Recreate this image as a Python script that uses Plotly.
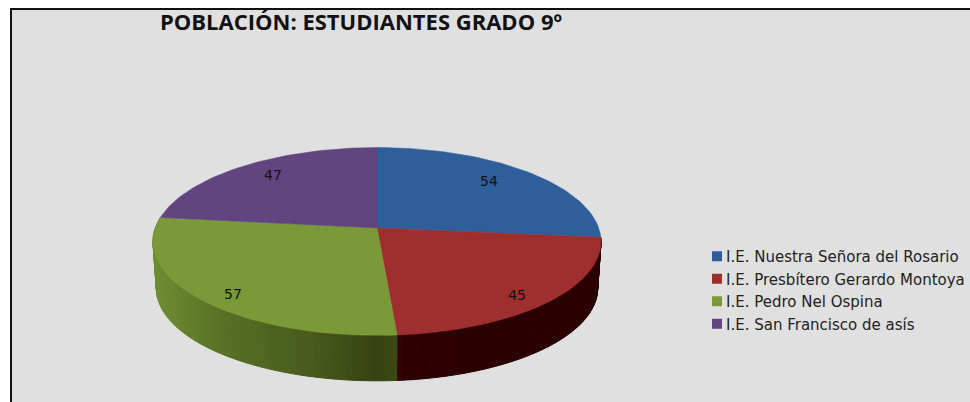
import math
import plotly.graph_objects as go

CATEGORIES = ["I.E. Nuestra Señora del Rosario", "I.E. Presbítero Gerardo Montoya",
              "I.E. Pedro Nel Ospina", "I.E. San Francisco de asís"]
VALUES = [54, 45, 57, 47]
COLORS = ["#2E5F9A", "#9E2F2E", "#7A9A3A", "#624480"]
TITLE = "POBLACIÓN: ESTUDIANTES GRADO 9º"

W, H = 970, 402
CX, CY, A, B, P = 377, 228, 221.7, 92, 0.1436
DEPTH, SHRINK = 47, 0.985
LABEL_FX = [0.735, 0.819, 0.818, 0.77]
LABEL_FY = [0.823, 0.92, 0.935, 0.845]
LABEL_DY = 2
TOTAL = sum(VALUES)


def top(deg, r=1.0):
    X, Y = r * math.sin(math.radians(deg)), r * math.cos(math.radians(deg))
    w = 1 + P * Y
    return CX + A * X / w, CY - B * Y / w


def low(deg):
    X, Y = math.sin(math.radians(deg)), math.cos(math.radians(deg))
    w = 1 + P * Y
    return CX + SHRINK * A * X / w, CY + DEPTH - SHRINK * B * Y / w


def lerp(stops, t):
    for (t0, c0), (t1, c1) in zip(stops, stops[1:]):
        if t <= t1:
            u = (t - t0) / (t1 - t0)
            return "rgb(%d,%d,%d)" % tuple(round(a + (b - a) * u) for a, b in zip(c0, c1))
    return "rgb(%d,%d,%d)" % stops[-1][1]


angles = [0]
for v in VALUES:
    angles.append(angles[-1] + v / TOTAL * 360)

fig = go.Figure()

# side wall strips, shaded by screen x
RED_SIDE = [(0, (58, 8, 6)), (0.15, (44, 0, 0)), (1, (42, 0, 0))]
GREEN_SIDE = [(0, (54, 66, 16)), (0.3, (72, 90, 28)), (0.7, (88, 112, 38)), (1, (110, 140, 50))]
for i, stops in ((1, RED_SIDE), (2, GREEN_SIDE)):
    a0, a1 = angles[i], angles[i + 1]
    n = 70
    for k in range(n):
        s0 = a0 + (a1 - a0) * k / n
        s1 = a0 + (a1 - a0) * (k + 1) / n
        pts = [top(s0), top(s1), low(s1), low(s0), top(s0)]
        tx = abs(top((s0 + s1) / 2)[0] - top(180)[0]) / A
        col = lerp(stops, min(tx, 1))
        fig.add_trace(go.Scatter(x=[p[0] for p in pts], y=[p[1] for p in pts], mode="lines",
                                 fill="toself", fillcolor=col, line=dict(color=col, width=1),
                                 hoverinfo="skip", showlegend=False))

# top faces
for i, (name, val, col) in enumerate(zip(CATEGORIES, VALUES, COLORS)):
    a0, a1 = angles[i], angles[i + 1]
    n = 60
    arc = [top(a0 + (a1 - a0) * k / n) for k in range(n + 1)]
    xs = [CX] + [p[0] for p in arc] + [CX]
    ys = [CY] + [p[1] for p in arc] + [CY]
    fig.add_trace(go.Scatter(x=xs, y=ys, mode="lines", fill="toself", fillcolor=col,
                             line=dict(color=col, width=0.5), name=name,
                             hovertemplate=f"{name}: {val}<extra></extra>", showlegend=False))

# value labels
mids = [(angles[i] + angles[i + 1]) / 2 for i in range(4)]
lx, ly = [], []
for m, fx, fy in zip(mids, LABEL_FX, LABEL_FY):
    X, Y = fx * math.sin(math.radians(m)), fy * math.cos(math.radians(m))
    w = 1 + P * Y
    lx.append(CX + A * X / w)
    ly.append(CY - B * Y / w + LABEL_DY)
fig.add_trace(go.Scatter(x=lx, y=ly, mode="text", text=[str(v) for v in VALUES],
                         textposition="middle center",
                         textfont=dict(family="DejaVu Sans", size=14, color="#111111"),
                         hoverinfo="skip", showlegend=False))

# legend entries
for name, col in zip(CATEGORIES, COLORS):
    fig.add_trace(go.Scatter(x=[None], y=[None], mode="markers", name=name, legendgroup=name,
                             marker=dict(symbol="square", size=10, color=col)))

fig.update_layout(
    width=W, height=H, margin=dict(l=0, r=0, t=0, b=0),
    paper_bgcolor="white", plot_bgcolor="white",
    xaxis=dict(range=[0, W], visible=False, fixedrange=True),
    yaxis=dict(range=[H, 0], visible=False, fixedrange=True),
    title=dict(text=f"<b>{TITLE}</b>", x=160 / W, xanchor="left", y=1 - 22 / H, yanchor="middle",
               font=dict(family="Open Sans", size=22, color="#111111")),
    legend=dict(x=686 / W, xanchor="left", y=1 - 240 / H, yanchor="top", bgcolor="rgba(0,0,0,0)",
                font=dict(family="DejaVu Sans", size=15, color="#222222"),
                tracegroupgap=0, traceorder="grouped"),
    shapes=[dict(type="rect", xref="x", yref="y", x0=11, x1=W + 5, y0=9, y1=H + 5, layer="below",
                 fillcolor="#E0E0E0", line=dict(color="#111111", width=2))],
)
POST = """
document.body.style.margin = '0';
document.documentElement.style.overflow = 'hidden';
setTimeout(function () {
  document.querySelectorAll('.legendsymbols').forEach(function (g) {
    g.setAttribute('transform', 'translate(11,0)');
  });
}, 0);
"""
fig.write_html("out.html", post_script=POST, config={"displayModeBar": False})
